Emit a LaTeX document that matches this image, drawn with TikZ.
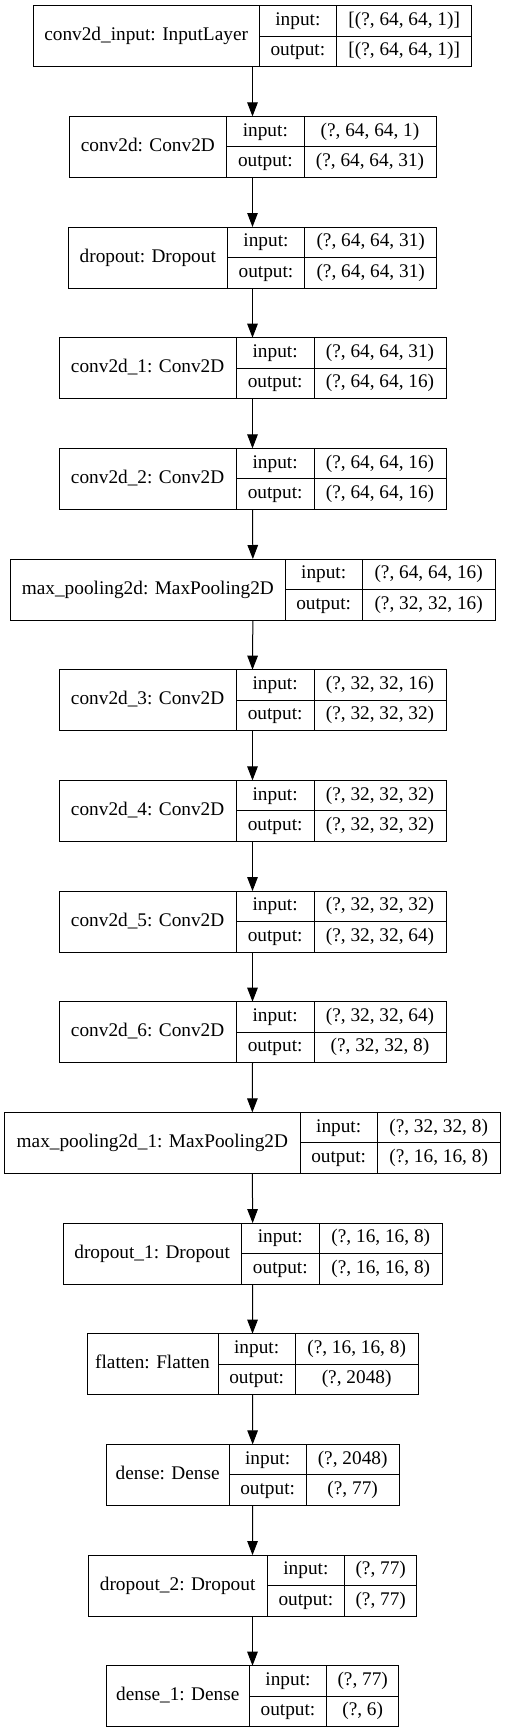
\documentclass[tikz,border=0pt]{standalone}
\usepackage{fontspec}
\setmainfont{Liberation Serif}
\usetikzlibrary{arrows.meta}
\newcommand{\klayer}[9]{%
  \node[box, minimum width={#6pt-#3pt}, anchor=north west] (#1) at (#3,-#2) {};
  \draw[sep] (#4,-#2) -- ({#4},{-#2-61});
  \draw[sep] (#5,-#2) -- ({#5},{-#2-61});
  \draw[sep] (#4,{-#2-30.5}) -- (#6,{-#2-30.5});
  \node[txt] (#1-l) at ({(#3+#4)/2},{-#2-30.5}) {#7};
  \node[txt] (#1-ik) at ({(#4+#5)/2},{-#2-15.25}) {input:};
  \node[txt] (#1-ok) at ({(#4+#5)/2},{-#2-45.75}) {output:};
  \node[txt] (#1-iv) at ({(#5+#6)/2},{-#2-15.25}) {#8};
  \node[txt] (#1-ov) at ({(#5+#6)/2},{-#2-45.75}) {#9};
}
\begin{document}
\begin{tikzpicture}[x=1pt,y=1pt,
  box/.style={draw=black, line width=1pt, minimum height=61pt, inner sep=0pt, outer sep=0pt},
  sep/.style={draw=black, line width=1pt},
  txt/.style={inner sep=0pt, text height=13pt, text depth=4pt, font=\fontsize{19.3}{22}\selectfont},
  arr/.style={draw=black, line width=1pt, -{Triangle[length=14pt,width=10.5pt]}}]
\useasboundingbox (0,0) rectangle (505,-1733);
\fill[white] (0,0) rectangle (505,-1733);
\klayer{L1}{5.7}{33.3}{259}{336.7}{471.7}{conv2d\_input: InputLayer}{[(?, 64, 64, 1)]}{[(?, 64, 64, 1)]}
\klayer{L2}{116.4}{69}{226.7}{304}{436}{conv2d: Conv2D}{(?, 64, 64, 1)}{(?, 64, 64, 31)}
\klayer{L3}{227.0}{68.3}{227.3}{304.7}{436.7}{dropout: Dropout}{(?, 64, 64, 31)}{(?, 64, 64, 31)}
\klayer{L4}{337.7}{59}{236.3}{314}{446}{conv2d\_1: Conv2D}{(?, 64, 64, 31)}{(?, 64, 64, 16)}
\klayer{L5}{448.4}{59}{236.3}{314}{446}{conv2d\_2: Conv2D}{(?, 64, 64, 16)}{(?, 64, 64, 16)}
\klayer{L6}{559.0}{10.7}{285}{362.3}{495}{max\_pooling2d: MaxPooling2D}{(?, 64, 64, 16)}{(?, 32, 32, 16)}
\klayer{L7}{669.7}{59}{236.3}{314}{446}{conv2d\_3: Conv2D}{(?, 32, 32, 16)}{(?, 32, 32, 32)}
\klayer{L8}{780.4}{59}{236.3}{314}{446}{conv2d\_4: Conv2D}{(?, 32, 32, 32)}{(?, 32, 32, 32)}
\klayer{L9}{891.1}{59}{236.3}{314}{446}{conv2d\_5: Conv2D}{(?, 32, 32, 32)}{(?, 32, 32, 64)}
\klayer{L10}{1001.7}{59}{236.3}{314}{446}{conv2d\_6: Conv2D}{(?, 32, 32, 64)}{(?, 32, 32, 8)}
\klayer{L11}{1112.4}{4.7}{300}{377.3}{500}{max\_pooling2d\_1: MaxPooling2D}{(?, 32, 32, 8)}{(?, 16, 16, 8)}
\klayer{L12}{1223.1}{63}{241.3}{319.3}{442.3}{dropout\_1: Dropout}{(?, 16, 16, 8)}{(?, 16, 16, 8)}
\klayer{L13}{1333.7}{87}{218}{295.3}{418}{flatten: Flatten}{(?, 16, 16, 8)}{(?, 2048)}
\klayer{L14}{1444.4}{106.3}{229}{306.3}{399}{dense: Dense}{(?, 2048)}{(?, 77)}
\klayer{L15}{1555.1}{88.3}{267}{344.7}{416.7}{dropout\_2: Dropout}{(?, 77)}{(?, 77)}
\klayer{L16}{1665.7}{106.3}{249.3}{326.7}{398.7}{dense\_1: Dense}{(?, 77)}{(?, 6)}
\foreach \a/\b in {L1/L2,L2/L3,L3/L4,L4/L5,L5/L6,L6/L7,L7/L8,L8/L9,L9/L10,L10/L11,L11/L12,L12/L13,L13/L14,L14/L15,L15/L16}
  \draw[arr] (\a.south) -- (\b.north);
\end{tikzpicture}
\end{document}
